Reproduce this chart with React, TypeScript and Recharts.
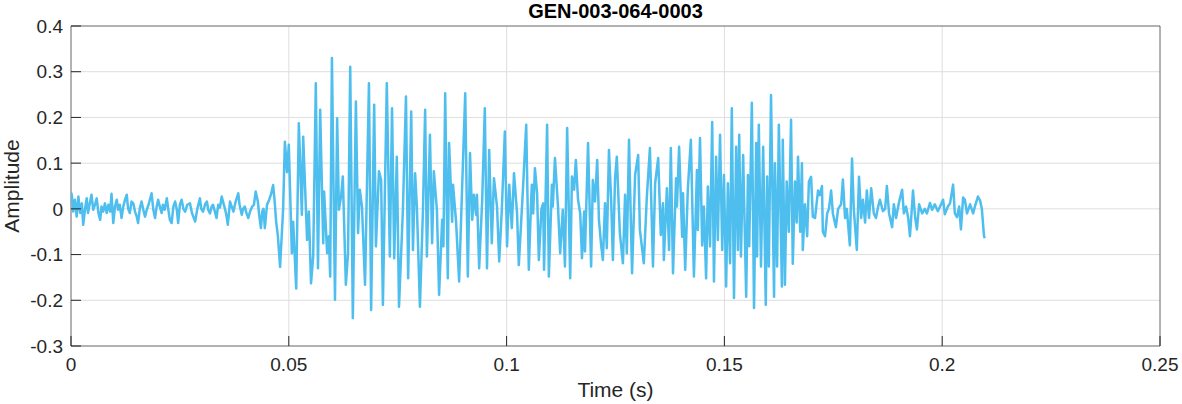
import { CartesianGrid, Line, LineChart, ReferenceArea, XAxis, YAxis } from "recharts";

const timeTicks = [0, 0.05, 0.1, 0.15, 0.2, 0.25];
const ampTicks = [-0.3, -0.2, -0.1, 0, 0.1, 0.2, 0.3, 0.4];

// [time in ms, amplitude]
const leadIn: [number, number][] = [
  [0.0, 0.036], [0.2, 0.03], [0.5, -0.006], [0.9, 0.02], [1.3, -0.017], [1.7, 0.027],
  [2.1, -0.009], [2.5, 0.012], [2.8, -0.035], [3.2, -0.002], [3.6, 0.023], [3.9, -0.009],
  [4.4, 0.016], [4.7, 0.031], [5.1, -0.002], [5.5, 0.009], [5.9, 0.023], [6.3, -0.009],
  [6.7, -0.024], [7.0, 0.005], [7.4, -0.006], [7.8, 0.012], [8.2, -0.009], [8.6, 0.009],
  [9.0, -0.006], [9.3, 0.033], [9.7, -0.031], [10.1, 0.005], [10.5, 0.02], [10.8, -0.002],
  [11.2, 0.009], [11.6, -0.02], [12.0, 0.005], [12.4, 0.02], [12.8, 0.031], [13.1, 0.001],
  [13.5, -0.009], [13.9, 0.016], [14.3, 0.012], [14.7, -0.006], [15.1, -0.017], [15.4, -0.031],
  [15.8, 0.001], [16.2, 0.016], [16.6, -0.002], [17.0, -0.017], [17.4, -0.002], [17.8, 0.009],
  [18.1, 0.02], [18.5, 0.034], [18.9, -0.002], [19.3, -0.02], [19.6, 0.001], [20.0, 0.02],
  [20.4, 0.005], [20.8, -0.009], [21.1, 0.009], [21.5, -0.002], [22.0, 0.023], [22.3, 0.001],
  [22.7, -0.024], [23.1, -0.031], [23.5, 0.005], [23.9, 0.016], [24.3, -0.002], [24.6, -0.031],
  [25.0, 0.009], [25.4, 0.02], [25.8, 0.0], [26.2, -0.006], [26.7, 0.009], [27.3, 0.012],
  [27.8, -0.01], [28.5, -0.028], [29.0, 0.0], [29.6, 0.023], [29.9, 0.0], [30.3, -0.006],
  [30.8, 0.01], [31.2, 0.016], [31.5, -0.002], [31.9, -0.01], [32.3, 0.005], [32.6, 0.009],
  [33.0, -0.005], [33.4, -0.02], [33.8, 0.009], [34.2, 0.003], [34.6, 0.027], [35.0, 0.012],
  [35.4, -0.002], [35.7, -0.015], [36.0, -0.035], [36.5, 0.016], [36.9, 0.005], [37.3, -0.006],
  [37.8, 0.016], [38.4, 0.034], [38.7, 0.009], [39.2, -0.013], [39.5, 0.0], [39.9, 0.005],
  [40.3, -0.01], [40.7, -0.02], [41.1, -0.006], [41.6, 0.005], [42.0, 0.009], [42.4, 0.038],
  [42.9, 0.016], [43.2, -0.013], [43.6, -0.042], [43.9, -0.006], [44.2, 0.0], [44.5, -0.042],
  [45.0, 0.009], [45.5, 0.02], [45.9, 0.031], [46.4, 0.052], [46.7, 0.023], [47.1, -0.028],
  [47.5, -0.06],
];

const attack: [number, number][] = [
  [48.0, -0.127], [48.7, 0.0], [49.1, 0.147], [49.6, 0.08], [50.0, 0.14], [50.7, -0.097],
  [51.0, -0.028], [51.7, -0.174], [52.3, 0.187], [53.0, -0.013], [53.3, 0.158], [54.2, -0.068],
  [54.6, -0.006], [55.1, -0.163], [55.6, -0.104], [56.2, 0.275], [56.7, -0.13], [57.2, 0.217],
  [57.9, -0.075], [58.1, 0.038], [58.8, -0.097], [59.2, -0.06], [59.5, -0.148], [59.9, 0.33],
  [60.6, -0.199], [61.1, 0.198], [61.5, -0.002], [62.0, 0.027], [62.4, 0.071], [63.1, -0.166],
  [63.6, -0.097], [64.1, 0.311], [64.7, -0.239], [65.4, 0.235], [65.9, -0.053], [66.3, 0.042],
  [66.8, 0.005], [67.5, -0.166], [68.4, 0.275], [68.9, -0.221], [69.6, 0.228], [70.0, -0.082],
  [70.7, 0.082], [71.2, 0.063], [71.6, -0.21], [72.5, 0.275], [73.2, -0.104], [73.7, 0.22],
  [74.2, -0.108], [74.8, 0.114], [75.3, -0.214],
];

const sustain: [number, number][] = [
  [76.2, 0.0], [76.9, 0.246], [77.4, -0.152], [78.1, 0.213], [78.5, -0.09], [79.0, 0.078],
  [79.4, 0.005], [80.1, -0.214], [80.8, -0.002], [81.3, 0.217], [81.7, -0.104], [82.4, 0.162],
  [82.9, -0.075], [83.3, 0.082], [84.0, -0.002], [84.5, -0.188], [85.2, -0.024], [85.5, -0.082],
  [85.9, 0.253], [86.5, -0.152], [86.8, 0.144], [87.5, -0.028], [87.7, 0.053], [88.4, -0.028],
  [89.1, -0.159], [89.5, -0.039], [90.5, 0.253], [91.1, -0.148], [91.6, 0.122], [92.1, -0.024],
  [92.5, 0.031], [93.0, -0.013], [93.2, 0.031], [93.7, -0.13], [94.4, 0.02], [95.0, 0.22],
  [95.5, -0.13], [96.0, 0.129], [96.6, -0.075], [97.1, 0.067], [97.8, 0.005], [98.3, -0.115],
  [98.9, -0.002], [99.6, 0.169], [100.1, -0.082], [100.6, 0.053], [101.2, -0.042], [101.7, 0.078],
  [102.4, -0.01], [102.8, -0.123], [103.7, 0.034], [104.5, 0.184], [105.1, -0.133],
];

const middle: [number, number][] = [
  [105.6, 0.012], [105.8, 0.053], [106.1, -0.01], [106.5, 0.089], [107.0, 0.034], [107.4, -0.112],
  [108.0, 0.0], [108.4, 0.012], [108.6, -0.133], [109.3, 0.184], [109.7, -0.148], [110.4, 0.053],
  [110.6, 0.005], [111.1, 0.111], [111.8, 0.005], [112.3, -0.097], [112.9, -0.002], [113.4, -0.126],
  [113.9, 0.177], [114.6, -0.152], [115.0, 0.071], [115.5, 0.042], [115.9, 0.107], [116.4, 0.02],
  [116.9, -0.01], [117.3, -0.108], [117.8, -0.006], [118.0, -0.093], [118.7, 0.144], [119.4, -0.126],
  [119.8, 0.063], [120.3, 0.016], [120.8, 0.107], [121.2, -0.024], [121.7, -0.079], [122.1, -0.112],
  [122.6, 0.012], [123.0, -0.086], [123.5, 0.129], [124.0, 0.02], [124.4, -0.112], [124.9, 0.067],
  [125.3, 0.114], [126.0, -0.053], [126.7, -0.119], [127.2, 0.031], [127.6, -0.097], [128.1, 0.151],
  [128.8, -0.141], [129.5, 0.074], [130.2, 0.118], [130.6, -0.046], [131.5, -0.119], [132.2, 0.027],
  [132.9, 0.133], [133.6, -0.126],
];

const burst: [number, number][] = [
  [134.1, 0.056], [134.8, 0.111], [135.4, -0.057], [135.9, 0.012], [136.1, -0.112], [136.8, 0.045],
  [137.3, -0.09], [137.7, 0.133], [138.2, -0.141], [138.9, 0.067], [139.1, 0.005], [139.6, 0.136],
  [140.3, -0.061], [140.5, 0.034], [141.0, -0.133], [141.6, 0.042], [142.3, 0.151], [143.0, -0.148],
  [143.7, 0.085], [143.9, -0.046], [144.4, 0.155], [144.9, -0.08], [145.3, 0.005], [145.8, -0.152],
  [146.2, 0.049], [146.7, -0.082], [147.2, 0.19], [147.6, -0.159], [148.1, 0.114], [148.5, -0.068],
  [149.0, 0.162], [149.5, -0.09], [149.9, 0.074], [150.4, -0.17], [150.8, 0.056], [151.3, -0.119],
  [151.7, 0.22], [152.2, -0.195], [152.7, 0.136], [153.1, -0.09], [153.4, 0.162], [153.8, -0.104],
  [154.3, 0.118], [155.0, -0.192], [155.4, 0.074], [155.7, -0.082], [156.3, 0.232], [156.8, -0.217],
  [157.3, 0.144], [157.5, -0.104], [157.9, 0.184], [158.4, -0.126], [158.9, 0.136], [159.5, -0.21],
  [159.8, 0.071], [160.2, -0.126], [160.7, 0.249], [161.4, -0.192], [161.6, 0.1], [162.1, -0.126],
  [162.5, 0.184], [163.2, -0.17], [163.4, 0.151], [163.9, -0.166],
];

const decay: [number, number][] = [
  [164.3, 0.06], [164.8, -0.05], [165.3, 0.195], [165.7, -0.12], [166.2, 0.06], [166.6, -0.03],
  [166.9, 0.114], [167.4, -0.05], [167.8, 0.1], [168.0, -0.09], [168.5, 0.01], [169.0, -0.06],
  [169.4, 0.06], [169.9, 0.07], [170.3, -0.017], [170.8, -0.02], [171.5, 0.04], [171.9, 0.03],
  [172.4, 0.05], [172.6, -0.05], [173.1, -0.06], [173.6, -0.01], [174.0, 0.0], [174.5, 0.04],
  [174.9, -0.01], [175.6, -0.04], [176.1, 0.0], [176.8, 0.01], [177.2, 0.064], [177.7, -0.02],
  [178.1, 0.0], [178.8, -0.08], [179.3, 0.11], [179.7, 0.0], [180.4, -0.09], [180.9, 0.07],
  [181.4, -0.02], [181.8, 0.02], [182.3, -0.03], [182.7, 0.04], [183.2, -0.02], [183.7, 0.045],
  [184.3, -0.01], [184.8, -0.02], [185.3, 0.005], [185.7, 0.02], [186.4, -0.005], [186.9, 0.0],
  [187.3, 0.05], [187.8, -0.01], [188.5, -0.04], [188.9, 0.01], [189.4, -0.02], [190.1, 0.015],
  [190.8, 0.042], [191.2, -0.01], [191.7, 0.005], [192.2, -0.02], [192.6, -0.06], [193.3, 0.04],
  [193.8, -0.02], [194.2, -0.045], [194.7, 0.01], [195.4, -0.01], [196.0, 0.0], [196.5, -0.01],
  [197.2, 0.013], [197.7, -0.002], [198.3, 0.01], [199.0, -0.005], [199.5, 0.005], [200.2, 0.02],
  [200.6, -0.012], [201.3, 0.005], [201.8, 0.012], [202.5, 0.053], [202.9, -0.01], [203.4, -0.018],
  [203.9, 0.005], [204.3, -0.045], [204.8, 0.025], [205.2, 0.02], [205.7, -0.01], [206.4, 0.01],
  [207.1, -0.01], [207.5, 0.005], [208.2, 0.027], [208.7, 0.018], [209.1, 0.0], [209.6, -0.06],
  [209.8, -0.064],
];

const rows = [leadIn, attack, sustain, middle, burst, decay]
  .flat()
  .map(([ms, amp]) => ({ t: ms / 1000, amp }));

const FONT = "'Liberation Sans', Arial, Helvetica, sans-serif";
const INK = "#262626";
const TICK_LEN = 10;

function YTick(props: any) {
  const { x, y, payload } = props;
  const ax = x + 8;
  return (
    <g>
      <line x1={ax} x2={ax + TICK_LEN} y1={y} y2={y} stroke={INK} />
      <text x={x} y={y} dy="0.35em" textAnchor="end" fill={INK} fontSize={19} fontFamily={FONT}>
        {String(payload.value)}
      </text>
    </g>
  );
}

function XTick(props: any) {
  const { x, y, payload } = props;
  const ay = y - 12;
  return (
    <g>
      <line x1={x} x2={x} y1={ay} y2={ay - TICK_LEN} stroke={INK} />
      <text x={x} y={y} dy="0.71em" textAnchor="middle" fill={INK} fontSize={19} fontFamily={FONT}>
        {String(payload.value)}
      </text>
    </g>
  );
}

export default function App() {
  return (
    <div style={{ position: "absolute", left: 0, top: 0, width: 1182, height: 404, background: "#fff" }}>
      <LineChart
        width={1182}
        height={404}
        data={rows}
        margin={{ top: 26, right: 22, bottom: 0, left: 0 }}
      >
        <CartesianGrid stroke="#dedede" />
        <XAxis
          dataKey="t"
          type="number"
          domain={[0, 0.25]}
          ticks={timeTicks}
          interval={0}
          allowDataOverflow
          height={58}
          tickSize={0}
          tickMargin={12}
          axisLine={false}
          tick={(p: any) => <XTick {...p} />}
        />
        <YAxis
          type="number"
          domain={[-0.3, 0.4]}
          ticks={ampTicks}
          interval={0}
          allowDataOverflow
          width={71}
          tickSize={0}
          tickMargin={8}
          axisLine={false}
          tick={(p: any) => <YTick {...p} />}
        />
        <ReferenceArea x1={0} x2={0.25} y1={-0.3} y2={0.4} fill="none" stroke={INK} strokeOpacity={0.6} />
        <Line
          dataKey="amp"
          type="linear"
          stroke="#4DBEEE"
          strokeWidth={2.5}
          strokeLinejoin="round"
          dot={false}
          isAnimationActive={false}
        />
      </LineChart>
      <svg
        width={1182}
        height={404}
        style={{ position: "absolute", left: 0, top: 0, pointerEvents: "none" }}
      >
        <text x={615.5} y={18} textAnchor="middle" fontWeight="bold" fontSize={20} fill="#000" fontFamily={FONT}>
          GEN-003-064-0003
        </text>
        <text x={615.5} y={397} textAnchor="middle" fontSize={21} fill={INK} fontFamily={FONT}>
          Time (s)
        </text>
        <text
          transform="translate(19,186) rotate(-90)"
          textAnchor="middle"
          fontSize={21}
          fill={INK}
          fontFamily={FONT}
        >
          Amplitude
        </text>
      </svg>
    </div>
  );
}
